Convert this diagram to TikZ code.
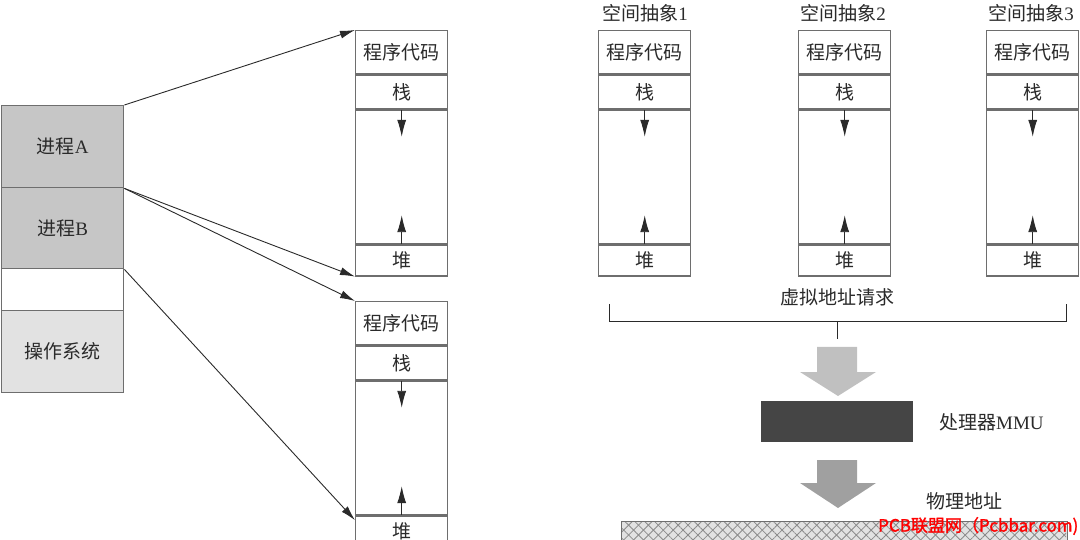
\documentclass[tikz,border=0pt]{standalone}
\usepackage{fontspec}
\setmainfont{Liberation Serif}
\newfontfamily\cjk{Noto Sans CJK SC}
\newfontfamily\wmfont[FakeBold=1.5]{Noto Sans CJK SC}
\usetikzlibrary{arrows.meta,patterns.meta}
\definecolor{procfill}{HTML}{C6C6C6}
\definecolor{osfill}{HTML}{E2E2E2}
\definecolor{bordc}{HTML}{6E6E6E}
\definecolor{mmuc}{HTML}{454545}
\definecolor{arrA}{HTML}{C0C0C0}
\definecolor{arrB}{HTML}{A0A0A0}
\definecolor{txt}{HTML}{2A2A2A}
\definecolor{hatchc}{HTML}{8A8A8A}
\newcommand\zh[1]{{\cjk #1}}
\newcommand\memstack[3]{%
  \node[cell, minimum height=43, anchor=north west] (#1c) at (#2,#3) {\zh{程序代码}};
  \node[cell, minimum height=34, anchor=north] (#1s) at (#1c.south) {\zh{栈}};
  \node[cell, minimum height=133, anchor=north] (#1e) at (#1s.south) {};
  \node[cell, minimum height=31, anchor=north] (#1h) at (#1e.south) {\zh{堆}};
  \draw[inarr] (#1e.north) -- ++(0,27);
  \draw[inarr] (#1e.south) -- ++(0,-29);
}
\tikzset{
  txtfont/.style={font=\fontsize{19}{22}\selectfont, text=txt},
  cell/.style={draw=bordc, line width=1.4pt, fill=white, minimum width=92, inner sep=0pt, txtfont},
  proc/.style={draw=bordc, line width=1.4pt, minimum width=122, inner sep=0pt, anchor=north west, txtfont},
  inarr/.style={line width=0.9pt, draw=txt, -{Latex[length=17pt,width=9pt]}},
  conn/.style={line width=0.9pt, draw=txt, -{Latex[length=15pt,width=8pt]}},
  lbl/.style={txtfont, inner sep=0pt},
}
\begin{document}
\begin{tikzpicture}[x=1pt,y=-1pt]
\useasboundingbox (0,0) rectangle (1080,540);
\clip (0,0) rectangle (1080,540);
% left memory column
\node[proc, fill=procfill, minimum height=82] (pa) at (1,105) {\zh{进程}A};
\node[proc, fill=procfill, minimum height=81] (pb) at (1,187) {\zh{进程}B};
\node[proc, fill=white, minimum height=42] (pfree) at (1,268) {};
\node[proc, fill=osfill, minimum height=82] (pos) at (1,310) {\zh{操作系统}};
% middle stacks
\memstack{m}{355}{30}
\memstack{n}{355}{301}
% connectors
\draw[conn] (pa.north east) -- (mc.north west);
\draw[conn] (pa.south east) -- (mh.south west);
\draw[conn] (pa.south east) -- (nc.north west);
\draw[conn] (pb.south east) -- ([yshift=-5pt]nh.north west);
% right stacks
\memstack{a}{598}{30}
\memstack{b}{798}{30}
\memstack{c}{986}{30}
\node[lbl] (ta) at (645,13) {\zh{空间抽象}1};
\node[lbl] (tb) at (843,13) {\zh{空间抽象}2};
\node[lbl] (tc) at (1031,13) {\zh{空间抽象}3};
% bracket
\node[lbl] (vreq) at (837,297) {\zh{虚拟地址请求}};
\draw[line width=1pt, draw=txt] (609,304) -- (609,322) -- (1066,322) -- (1066,304);
\draw[line width=1pt, draw=txt] (837,322) -- (837,339);
% big arrow 1
\fill[arrA] (817,347) -- (857,347) -- (857,372) -- (876,372) -- (838,396) -- (800,372) -- (817,372) -- cycle;
% MMU
\node[fill=mmuc, minimum width=152, minimum height=41, inner sep=0pt, anchor=north west] (mmu) at (761,401) {};
\node[lbl, anchor=west] (mmul) at (939,422) {\zh{处理器}MMU};
% big arrow 2
\fill[arrB] (817,460) -- (857,460) -- (857,483) -- (876,483) -- (838,508) -- (800,483) -- (817,483) -- cycle;
\node[lbl, anchor=west] (phys) at (926,501) {\zh{物理地址}};
% physical memory bar
\node[draw=bordc, line width=1.2pt, fill=osfill, minimum width=446, minimum height=30, inner sep=0pt, anchor=north west] (pmem) at (621,521) {};
\fill[pattern={Lines[angle=45,distance=7pt,line width=0.8pt]}, pattern color=hatchc] (622,522) rectangle (1066,545);
\fill[pattern={Lines[angle=-45,distance=7pt,line width=0.8pt]}, pattern color=hatchc] (622,522) rectangle (1066,545);
% watermark
\node[anchor=west, inner sep=0pt, text=red, font=\wmfont\fontsize{17}{19}\selectfont] (wm) at (878,526) {PCB联盟网（Pcbbar.com)};
\end{tikzpicture}
\end{document}
